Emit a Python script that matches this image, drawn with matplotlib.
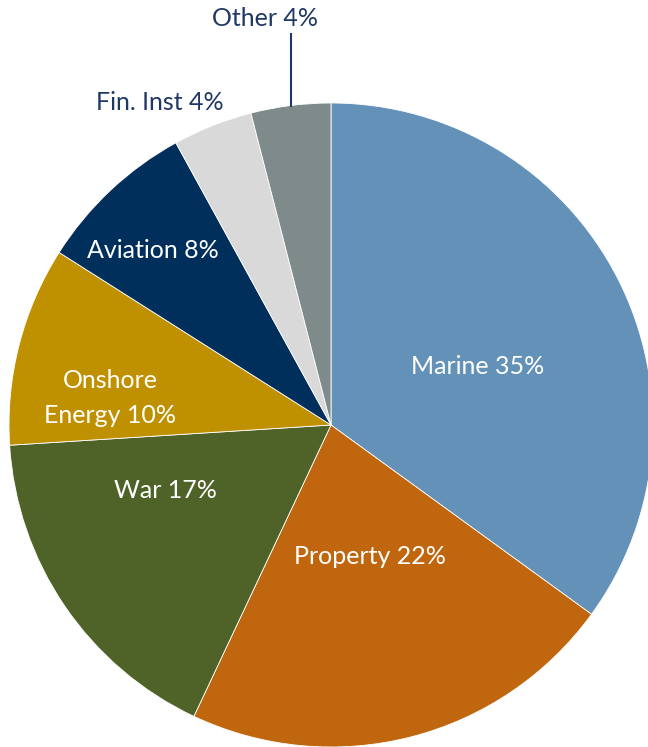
import numpy as np
import matplotlib.pyplot as plt

labels = ['Marine 35%', 'Property 22%', 'War 17%', 'Onshore\nEnergy 10%',
          'Aviation 8%', 'Fin. Inst 4%', 'Other 4%']
values = [35, 22, 17, 10, 8, 4, 4]
colors = ['#6391b8', '#c0660f', '#4f6228', '#bf9000', '#002f5c', '#d9d9d9', '#7f8a8b']

# label placement (pixel-ish units relative to pie centre)
label_xy = [(147, 59), (39, -131), (-166, -65), (-221, 27), (-178, 174), (-171, 322), (-66, 406)]
label_col = ['white'] * 5 + ['#1f3864', '#1f3864']

plt.rcParams['font.family'] = ['Lato', 'DejaVu Sans']

fig = plt.figure(figsize=(6.48, 7.47), dpi=100)
ax = fig.add_axes([0, 0, 1, 1])
R = 322
wedges, _ = ax.pie(values, colors=colors, startangle=90, counterclock=False, radius=R,
                   wedgeprops=dict(edgecolor='white', linewidth=0.6))
ax.set_xlim(-331, 317)
ax.set_ylim(-322, 425)
ax.set_aspect('equal')
ax.axis('off')

for (x, y), t, c in zip(label_xy, labels, label_col):
    ax.text(x, y, t, ha='center', va='center', color=c, fontsize=18, linespacing=1.6)

# leader line for "Other"
w = wedges[-1]
ang = np.deg2rad((w.theta1 + w.theta2) / 2)
lx = R * np.cos(ang)
ax.plot([lx, lx], [R * np.sin(ang), 391], color='#1f3864', lw=1.5)

fig.savefig('out.png', dpi=100)
